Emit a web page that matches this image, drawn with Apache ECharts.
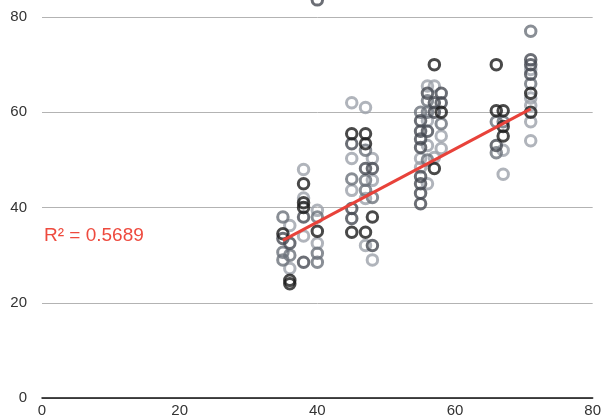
<!DOCTYPE html>
<html>
<head>
<meta charset="utf-8">
<script src="https://cdn.jsdelivr.net/npm/echarts@6/dist/echarts.min.js"></script>
<style>
  html, body { margin: 0; padding: 0; background: #fff; }
  #chart { width: 604px; height: 418px; }
</style>
</head>
<body>
<div id="chart"></div>
<script>
// Axis ticks
const xTicks = [0, 20, 40, 60, 80];
const yTicks = [0, 20, 40, 60, 80];

// Observations grouped by marker shade: [x, y]
const pointsBlack = [
  [38, 45], [38, 40], [38, 41], [40, 35], [35, 34.5], [36, 24.7], [36, 24],
  [45, 55.5], [47, 55.5], [47, 53.4], [48, 38], [45, 34.8], [47, 34.8],
  [57, 70], [58, 60], [57, 48.2],
  [66, 70], [71, 64], [71, 60], [66, 60.3], [67, 60.3], [67, 57], [67, 55]
];
const pointsDark = [
  [38, 38], [38, 28.5], [35, 33.5], [36, 32.5], [40, 83.6],
  [45, 53.4], [47, 48.2], [48, 48.2], [45, 39.8], [45, 37.7], [48, 32],
  [58, 64], [56, 64], [57, 62], [57, 60], [55, 58.2], [55, 56], [56, 56],
  [55, 54.4], [55, 52.6], [55, 46.5], [55, 45], [55, 43], [55, 40.8], [58, 62],
  [71, 71], [71, 70], [71, 68], [66, 53]
];
const pointsMid = [
  [40, 38], [40, 30.4], [40, 28.5], [35, 38], [35, 30.6], [35, 29], [36, 30],
  [47, 52], [45, 46], [47, 45.7], [47, 43.6], [48, 42.1],
  [56, 62.4], [55, 60], [58, 57.6], [56, 60], [56, 50],
  [71, 77], [71, 66], [66, 58], [67, 58], [66, 51.5]
];
const pointsLight = [
  [38, 48], [38, 42], [38, 34], [40, 39.4], [40, 32.5], [36, 36.2], [36, 27.2],
  [45, 62], [47, 61], [45, 50.3], [48, 50.3], [48, 45.7], [45, 43.6],
  [47, 41.9], [47, 32], [48, 29],
  [56, 65.5], [57, 65.5], [56, 58.2], [58, 55], [58, 52.4], [55, 50.3],
  [55, 48.4], [56, 45], [56, 53], [57, 50.5],
  [71, 69], [71, 63], [71, 61.4], [71, 58], [71, 54], [67, 52], [67, 47]
];

// Linear trend line endpoints and its fit statistic
const trendLine = [[35, 33.1], [71, 60.7]];
const rSquared = '0.5689';

const chart = echarts.init(document.getElementById('chart'), null, { renderer: 'canvas' });

function ringSeries(data, color) {
  return {
    type: 'scatter',
    data: data,
    symbol: 'circle',
    symbolSize: 10.5,
    clip: false,
    itemStyle: { color: 'rgba(0,0,0,0)', borderColor: color, borderWidth: 3 },
    emphasis: { disabled: true },
    z: 2
  };
}

const axisFont = { color: '#333', fontSize: 15, fontFamily: 'Liberation Sans, Arial, sans-serif' };

chart.setOption({
  animation: false,
  backgroundColor: '#fff',
  grid: { left: 42, right: 9, top: 17, bottom: 20, containLabel: false },
  xAxis: {
    type: 'value',
    min: xTicks[0], max: xTicks[xTicks.length - 1], interval: 20,
    axisLine: { show: true, onZero: false, lineStyle: { color: '#111', width: 1.5 } },
    axisTick: { show: false },
    splitLine: { show: false },
    axisLabel: Object.assign({ margin: 5 }, axisFont)
  },
  yAxis: {
    type: 'value',
    min: yTicks[0], max: yTicks[yTicks.length - 1], interval: 20,
    axisLine: { show: false },
    axisTick: { show: false },
    splitLine: { show: true, lineStyle: { color: '#b3b3b3', width: 1 } },
    axisLabel: Object.assign({ margin: 15 }, axisFont)
  },
  series: [
    ringSeries(pointsLight, '#9ca1aa'),
    ringSeries(pointsMid, '#6c727b'),
    ringSeries(pointsDark, '#464a52'),
    ringSeries(pointsBlack, '#1c1c1c'),
    {
      type: 'line',
      data: trendLine,
      symbol: 'none',
      lineStyle: { color: '#e8423a', width: 3 },
      z: 5
    }
  ],
  graphic: [{
    type: 'text',
    left: 44,
    top: 226,
    style: {
      text: 'R² = ' + rSquared,
      fill: '#ee4a3e',
      fontSize: 19,
      fontFamily: 'Liberation Sans, Arial, sans-serif'
    }
  }]
});
</script>
</body>
</html>
